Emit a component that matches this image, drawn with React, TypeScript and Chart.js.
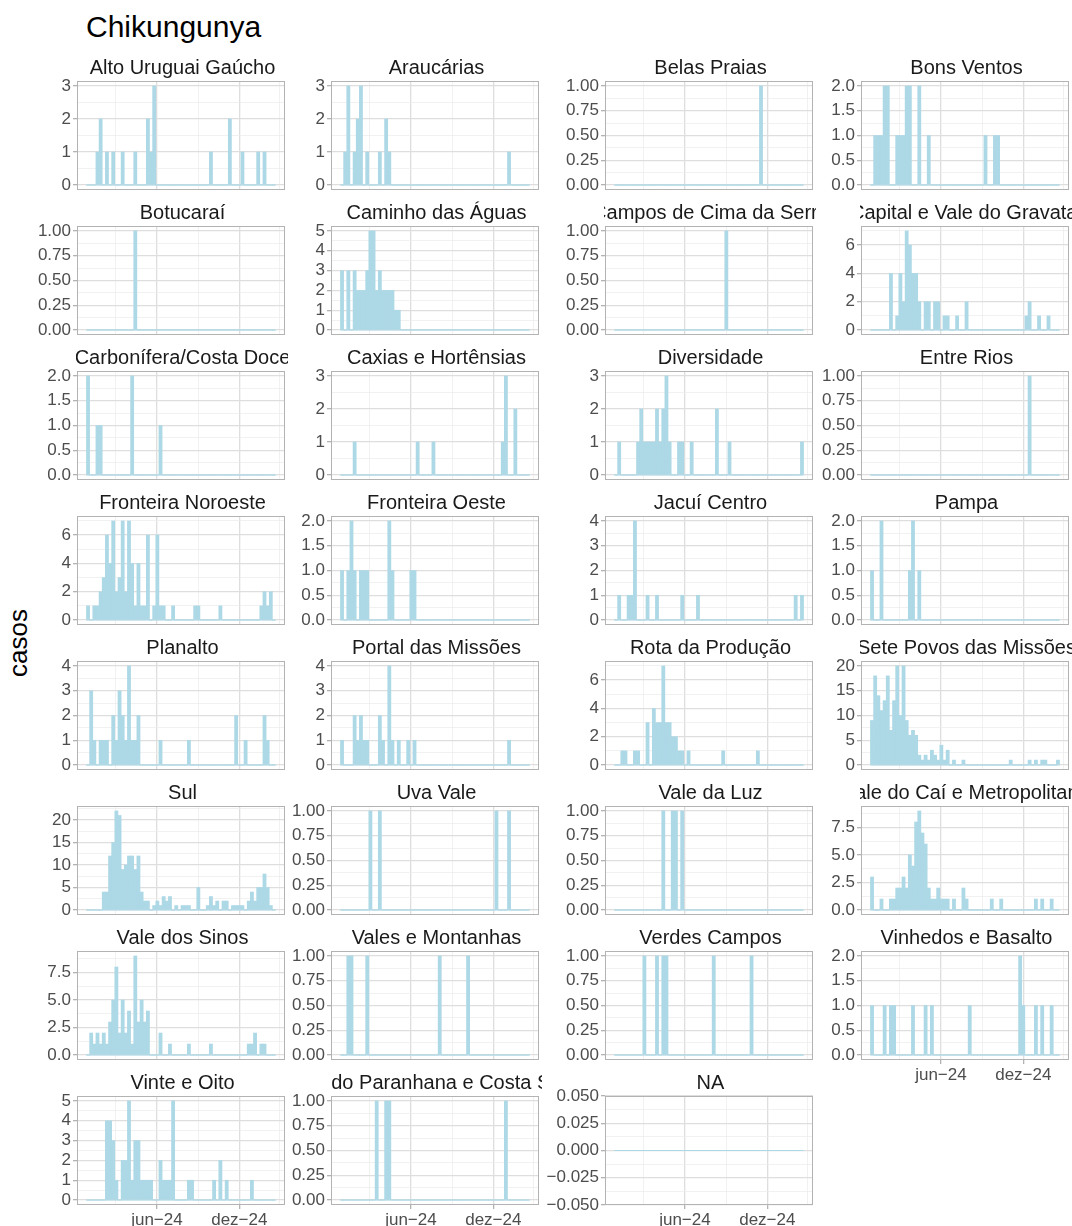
import React, { useEffect, useRef } from "react";
import { Chart, registerables } from "chart.js";

Chart.register(...registerables);

// ---------- text ----------
const chartTitle = "Chikungunya";
const yAxisTitle = "casos";

// ---------- x domain (weekly bars) ----------
const firstWeek = "2023-12-31";
const majorTickDates = ["2024-06-01", "2024-12-01"];
const majorTickLabels = ["jun−24", "dez−24"];
const minorTickDates = ["2024-03-01", "2024-09-01", "2025-03-01"];

// ---------- series: weekly cases per region ----------
const altoUruguaiGaucho = [
  0,0,0,1,2,0,1,0,1,0, 0,1,0,0,0,1,0,0,0,2, 1,3,0,0,0,0,0,0,0,0,
  0,0,0,0,0,0,0,0,0,1, 0,0,0,0,0,2,0,0,0,1, 0,0,0,0,1,0,1,0,0,0];
const araucarias = [
  0,1,3,0,1,2,3,0,1,0, 0,0,1,0,2,1,0,0,0,0, 0,0,0,0,0,0,0,0,0,0,
  0,0,0,0,0,0,0,0,0,0, 0,0,0,0,0,0,0,0,0,0, 0,0,0,1,0,0,0,0,0,0];
const belasPraias = [
  0,0,0,0,0,0,0,0,0,0, 0,0,0,0,0,0,0,0,0,0, 0,0,0,0,0,0,0,0,0,0,
  0,0,0,0,0,0,0,0,0,0, 0,0,0,0,0,0,1,0,0,0, 0,0,0,0,0,0,0,0,0,0];
const bonsVentos = [
  0,1,1,1,2,2,0,0,1,1, 1,2,2,0,0,2,0,0,1,0, 0,0,0,0,0,0,0,0,0,0,
  0,0,0,0,0,0,1,0,0,1, 1,0,0,0,0,0,0,0,0,0, 0,0,0,0,0,0,0,0,0,0];
const botucarai = [
  0,0,0,0,0,0,0,0,0,0, 0,0,0,0,0,1,0,0,0,0, 0,0,0,0,0,0,0,0,0,0,
  0,0,0,0,0,0,0,0,0,0, 0,0,0,0,0,0,0,0,0,0, 0,0,0,0,0,0,0,0,0,0];
const caminhoDasAguas = [
  3,0,3,0,3,2,2,2,3,5, 5,2,3,2,2,2,2,1,1,0, 0,0,0,0,0,0,0,0,0,0,
  0,0,0,0,0,0,0,0,0,0, 0,0,0,0,0,0,0,0,0,0, 0,0,0,0,0,0,0,0,0,0];
const camposDeCimaDaSerra = [
  0,0,0,0,0,0,0,0,0,0, 0,0,0,0,0,0,0,0,0,0, 0,0,0,0,0,0,0,0,0,0,
  0,0,0,0,0,1,0,0,0,0, 0,0,0,0,0,0,0,0,0,0, 0,0,0,0,0,0,0,0,0,0];
const capitalValeGravatai = [
  0,0,0,0,0,0,4,0,1,4, 2,7,6,4,4,2,0,2,2,0, 2,2,0,1,1,0,0,1,0,0,
  2,0,0,0,0,0,0,0,0,0, 0,0,0,0,0,0,0,0,0,1, 2,0,0,1,0,0,1,0,0,0];
const carboniferaCostaDoce = [
  2,0,0,1,1,0,0,0,0,0, 0,0,0,0,2,0,0,0,0,0, 0,0,0,1,0,0,0,0,0,0,
  0,0,0,0,0,0,0,0,0,0, 0,0,0,0,0,0,0,0,0,0, 0,0,0,0,0,0,0,0,0,0];
const caxiasHortensias = [
  0,0,0,0,1,0,0,0,0,0, 0,0,0,0,0,0,0,0,0,0, 0,0,0,0,1,0,0,0,0,1,
  0,0,0,0,0,0,0,0,0,0, 0,0,0,0,0,0,0,0,0,0, 0,1,3,0,0,2,0,0,0,0];
const diversidade = [
  0,1,0,0,0,0,0,1,2,1, 1,1,1,2,1,2,3,1,0,0, 1,1,0,0,1,0,0,0,0,0,
  0,0,2,0,0,0,1,0,0,0, 0,0,0,0,0,0,0,0,0,0, 0,0,0,0,0,0,0,0,0,1];
const entreRios = [
  0,0,0,0,0,0,0,0,0,0, 0,0,0,0,0,0,0,0,0,0, 0,0,0,0,0,0,0,0,0,0,
  0,0,0,0,0,0,0,0,0,0, 0,0,0,0,0,0,0,0,0,0, 1,0,0,0,0,0,0,0,0,0];
const fronteiraNoroeste = [
  1,0,1,1,2,3,6,4,7,2, 3,7,2,7,4,1,4,1,1,6, 0,1,6,1,1,0,0,1,0,0,
  0,0,0,0,1,1,0,0,0,0, 0,0,1,0,0,0,0,0,0,0, 0,0,0,0,0,1,2,1,2,0];
const fronteiraOeste = [
  1,0,1,2,1,0,1,1,1,0, 0,0,0,0,0,2,1,0,0,0, 0,0,1,1,0,0,0,0,0,0,
  0,0,0,0,0,0,0,0,0,0, 0,0,0,0,0,0,0,0,0,0, 0,0,0,0,0,0,0,0,0,0];
const jacuiCentro = [
  0,1,0,0,1,1,4,0,0,0, 1,0,0,1,0,0,0,0,0,0, 0,1,0,0,0,0,1,0,0,0,
  0,0,0,0,0,0,0,0,0,0, 0,0,0,0,0,0,0,0,0,0, 0,0,0,0,0,0,0,1,0,1];
const pampa = [
  1,0,0,2,0,0,0,0,0,0, 0,0,1,2,0,1,0,0,0,0, 0,0,0,0,0,0,0,0,0,0,
  0,0,0,0,0,0,0,0,0,0, 0,0,0,0,0,0,0,0,0,0, 0,0,0,0,0,0,0,0,0,0];
const planalto = [
  0,3,1,0,1,1,1,0,2,1, 3,2,1,4,1,1,2,0,0,0, 0,0,0,1,0,0,0,0,0,0,
  0,0,1,0,0,0,0,0,0,0, 0,0,0,0,0,0,0,2,0,0, 1,0,0,0,0,0,2,1,0,0];
const portalDasMissoes = [
  1,0,0,0,2,1,2,1,1,0, 0,0,2,1,0,4,1,0,1,0, 0,1,0,1,0,0,0,0,0,0,
  0,0,0,0,0,0,0,0,0,0, 0,0,0,0,0,0,0,0,0,0, 0,0,0,1,0,0,0,0,0,0];
const rotaDaProducao = [
  0,0,1,1,0,0,1,1,0,0, 3,0,4,3,3,7,3,3,2,2, 1,1,0,1,0,0,0,0,0,0,
  0,0,0,0,1,0,0,0,0,0, 0,0,0,0,0,1,0,0,0,0, 0,0,0,0,0,0,0,0,0,0];
const setePovosDasMissoes = [
  9,18,14,11,13,18,7,13,20,10, 20,9,6,7,6,2,1,2,1,3, 2,1,4,1,3,0,1,0,0,1,
  0,0,0,0,0,0,0,0,0,0, 0,0,0,0,1,0,0,0,0,0, 1,0,1,0,1,1,0,0,0,1];
const sul = [
  0,0,0,0,0,4,4,12,15,22, 21,9,10,12,12,9,12,4,2,2, 0,1,2,1,3,2,3,0,1,0,
  1,1,1,0,0,5,0,0,1,3, 1,2,0,2,2,0,1,1,1,1, 0,2,4,2,5,5,8,5,1,0];
const uvaVale = [
  0,0,0,0,0,0,0,0,0,1, 0,0,1,0,0,0,0,0,0,0, 0,0,0,0,0,0,0,0,0,0,
  0,0,0,0,0,0,0,0,0,0, 0,0,0,0,0,0,0,0,0,1, 0,0,0,1,0,0,0,0,0,0];
const valeDaLuz = [
  0,0,0,0,0,0,0,0,0,0, 0,0,0,0,0,1,0,0,1,1, 0,1,0,0,0,0,0,0,0,0,
  0,0,0,0,0,0,0,0,0,0, 0,0,0,0,0,0,0,0,0,0, 0,0,0,0,0,0,0,0,0,0];
const valeDoCaiMetropolitana = [
  3,0,0,1,0,0,1,1,2,2, 3,2,5,4,8,9,7,6,2,1, 1,2,1,1,1,0,1,0,0,2,
  1,0,0,0,0,0,0,0,1,0, 0,1,0,0,0,0,0,0,0,0, 0,0,1,0,1,0,0,1,0,0];
const valeDosSinos = [
  0,2,1,2,1,2,1,3,5,8, 2,5,2,4,1,9,3,5,3,4, 0,0,0,2,0,0,1,0,0,0,
  0,0,1,0,0,0,0,0,0,1, 0,0,0,0,0,0,0,0,0,0, 0,1,1,2,0,1,1,0,0,0];
const valesEMontanhas = [
  0,0,1,1,0,0,0,0,1,0, 0,0,0,0,0,0,0,0,0,0, 0,0,0,0,0,0,0,0,0,0,
  0,1,0,0,0,0,0,0,0,0, 1,0,0,0,0,0,0,0,0,0, 0,0,0,0,0,0,0,0,0,0];
const verdesCampos = [
  0,0,0,0,0,0,0,0,0,1, 0,0,0,1,0,1,1,0,0,0, 0,0,0,0,0,0,0,0,0,0,
  0,1,0,0,0,0,0,0,0,0, 0,0,0,1,0,0,0,0,0,0, 0,0,0,0,0,0,0,0,0,0];
const vinhedosEBasalto = [
  1,0,0,0,1,0,1,1,0,0, 0,0,0,1,0,0,0,1,0,1, 0,0,0,0,0,0,0,0,0,0,
  0,1,0,0,0,0,0,0,0,0, 0,0,0,0,0,0,0,2,1,0, 0,0,1,0,1,0,0,1,0,0];
const vinteEOito = [
  0,0,0,0,0,0,4,4,3,1, 0,2,2,5,1,3,3,1,1,1, 1,0,0,2,1,1,1,5,0,0,
  0,0,1,1,0,0,0,0,0,0, 1,0,2,0,1,0,0,0,0,0, 0,0,1,0,0,0,0,0,0,0];
const valeDoParanhanaCostaSerra = [
  0,0,0,0,0,0,0,0,0,0, 0,1,0,0,1,1,0,0,0,0, 0,0,0,0,0,0,0,0,0,0,
  0,0,0,0,0,0,0,0,0,0, 0,0,0,0,0,0,0,0,0,0, 0,0,1,0,0,0,0,0,0,0];
const semRegiao = [
  0,0,0,0,0,0,0,0,0,0, 0,0,0,0,0,0,0,0,0,0, 0,0,0,0,0,0,0,0,0,0,
  0,0,0,0,0,0,0,0,0,0, 0,0,0,0,0,0,0,0,0,0, 0,0,0,0,0,0,0,0,0,0];

const regionNames = [
  "Alto Uruguai Gaúcho", "Araucárias", "Belas Praias", "Bons Ventos",
  "Botucaraí", "Caminho das Águas", "Campos de Cima da Serra", "Capital e Vale do Gravataí",
  "Carbonífera/Costa Doce", "Caxias e Hortênsias", "Diversidade", "Entre Rios",
  "Fronteira Noroeste", "Fronteira Oeste", "Jacuí Centro", "Pampa",
  "Planalto", "Portal das Missões", "Rota da Produção", "Sete Povos das Missões",
  "Sul", "Uva Vale", "Vale da Luz", "Vale do Caí e Metropolitana",
  "Vale dos Sinos", "Vales e Montanhas", "Verdes Campos", "Vinhedos e Basalto",
  "Vinte e Oito", "Vale do Paranhana e Costa Serra", "NA",
];
const regionSeries = [
  altoUruguaiGaucho, araucarias, belasPraias, bonsVentos,
  botucarai, caminhoDasAguas, camposDeCimaDaSerra, capitalValeGravatai,
  carboniferaCostaDoce, caxiasHortensias, diversidade, entreRios,
  fronteiraNoroeste, fronteiraOeste, jacuiCentro, pampa,
  planalto, portalDasMissoes, rotaDaProducao, setePovosDasMissoes,
  sul, uvaVale, valeDaLuz, valeDoCaiMetropolitana,
  valeDosSinos, valesEMontanhas, verdesCampos, vinhedosEBasalto,
  vinteEOito, valeDoParanhanaCostaSerra, semRegiao,
];

// ---------- layout / style ----------
const FONT = '"Liberation Sans", Arial, Helvetica, sans-serif';
const BAR_COLOR = "#ADD8E6";
const AXIS_TEXT = "#4D4D4D";
const BORDER = "#B3B3B3";
const GRID_MAJOR = "#DEDEDE";
const GRID_MINOR = "#EBEBEB";
const NCOL = 4;
const COL_LEFT = [77, 331, 605, 861];
const PANEL_W = 208;
const ROW_TOP0 = 81;
const ROW_PITCH = 145;
const PANEL_H = 109;
const AXIS_W = 72;
const XAXIS_H = 30;
const VPAD = 12;
const RPAD = 2;
const STRIP_SHIFT = 1.5;
const STRIP_CLIP_L = 1;
const STRIP_CLIP_R = 3;

const DAY = 86400000;
const dayOf = (iso: string) => (Date.parse(iso) - Date.parse(firstWeek)) / DAY;

function pickStep(max: number): number {
  if (max <= 1) return 0.25;
  if (max <= 2) return 0.5;
  if (max <= 5) return 1;
  if (max <= 8) return 2;
  if (max <= 10) return 2.5;
  return 5;
}
function decimalsOf(step: number): number {
  const s = String(step);
  return s.includes(".") ? s.split(".")[1].length : 0;
}
function fmt(v: number, dec: number): string {
  const s = Math.abs(v).toFixed(dec);
  return v < -1e-12 ? "−" + s : s;
}

const borderPlugin = {
  id: "panelBorder",
  afterDraw(chart: any) {
    const { ctx, chartArea: a } = chart;
    ctx.save();
    ctx.strokeStyle = BORDER;
    ctx.lineWidth = 1;
    ctx.strokeRect(Math.round(a.left) + 0.5, Math.round(a.top) + 0.5, Math.round(a.right - a.left) - 1, Math.round(a.bottom - a.top) - 1);
    ctx.restore();
  },
};

function Panel({ index }: { index: number }) {
  const ref = useRef<HTMLCanvasElement | null>(null);
  const col = index % NCOL;
  const row = Math.floor(index / NCOL);
  const total = regionNames.length;
  const showX = index + NCOL >= total;
  const panelTop = ROW_TOP0 + row * ROW_PITCH;
  const left = COL_LEFT[col] - AXIS_W;
  const top = panelTop - VPAD;
  const width = AXIS_W + PANEL_W + RPAD;
  const height = VPAD + PANEL_H + (showX ? XAXIS_H : VPAD);

  useEffect(() => {
    const values = regionSeries[index];
    const days = values.map((_, i) => i * 7);
    const bars = values.map((v, i) => ({ x: days[i], y: v }));
    const dataStart = days[0] - 3.5;
    const dataEnd = days[days.length - 1] + 3.5;
    const xr = dataEnd - dataStart;
    const xMin = dataStart - 0.05 * xr;
    const xMax = dataEnd + 0.05 * xr;
    const baseline = [{ x: dataStart, y: 0 }, { x: dataEnd, y: 0 }];

    const maxV = Math.max(...values);
    let lo: number, hi: number, step: number;
    if (maxV === 0) { lo = -0.05; hi = 0.05; step = 0.025; }
    else { lo = -0.05 * maxV; hi = 1.05 * maxV; step = pickStep(maxV); }
    const dec = decimalsOf(step);
    const yMajor: number[] = [];
    for (let k = Math.ceil(lo / step - 1e-9); k * step <= hi + 1e-9; k++) yMajor.push(+(k * step).toFixed(6));
    const yMinor: number[] = [];
    for (let k = Math.ceil(lo / step - 1e-9) - 1; (k + 0.5) * step <= hi + 1e-9; k++) {
      const v = +((k + 0.5) * step).toFixed(6);
      if (v >= lo - 1e-9) yMinor.push(v);
    }
    const isYMajor = (v: number) => yMajor.some((m) => Math.abs(m - v) < 1e-7);

    const xMajor = majorTickDates.map(dayOf);
    const xMinor = minorTickDates.map(dayOf).filter((d) => d >= xMin && d <= xMax);
    const xMajorIdx = (v: number) => xMajor.findIndex((m) => Math.abs(m - v) < 1e-6);

    const chart = new Chart(ref.current as HTMLCanvasElement, {
      type: "bar",
      data: {
        datasets: [
          {
            type: "line",
            data: baseline,
            borderColor: BAR_COLOR,
            borderWidth: 1,
            pointRadius: 0,
            order: 2,
          } as any,
          {
            type: "bar",
            data: bars,
            backgroundColor: BAR_COLOR,
            borderWidth: 0,
            barPercentage: 1,
            categoryPercentage: 1,
            order: 1,
          } as any,
        ],
      },
      options: {
        animation: false,
        responsive: false,
        events: [],
        layout: { padding: { top: VPAD, right: RPAD, bottom: showX ? 0 : VPAD, left: 0 } },
        plugins: { legend: { display: false }, tooltip: { enabled: false } },
        scales: {
          x: {
            type: "linear",
            min: xMin,
            max: xMax,
            offset: false,
            border: { display: false },
            grid: {
              offset: false,
              drawTicks: showX,
              tickLength: 4,
              color: (c: any) => (c.tick && xMajorIdx(c.tick.value) >= 0 ? GRID_MAJOR : GRID_MINOR),
              lineWidth: (c: any) => (c.tick && xMajorIdx(c.tick.value) >= 0 ? 1.3 : 0.7),
              tickColor: (c: any) => (c.tick && xMajorIdx(c.tick.value) >= 0 ? BORDER : "rgba(0,0,0,0)"),
            },
            afterBuildTicks: (s: any) => {
              s.ticks = [...xMinor, ...xMajor].sort((a, b) => a - b).map((v) => ({ value: v }));
            },
            afterFit: (s: any) => {
              s.height = showX ? XAXIS_H : 0;
              s.paddingLeft = 0;
              s.paddingRight = 0;
            },
            ticks: {
              display: showX,
              autoSkip: false,
              maxRotation: 0,
              padding: 1,
              color: AXIS_TEXT,
              font: { family: FONT, size: 17 },
              callback: (v: any) => {
                const i = xMajorIdx(Number(v));
                return i >= 0 ? majorTickLabels[i] : "";
              },
            },
          },
          y: {
            type: "linear",
            min: lo,
            max: hi,
            border: { display: false },
            grid: {
              tickLength: 4,
              color: (c: any) => (c.tick && isYMajor(c.tick.value) ? GRID_MAJOR : GRID_MINOR),
              lineWidth: (c: any) => (c.tick && isYMajor(c.tick.value) ? 1.3 : 0.7),
              tickColor: (c: any) => (c.tick && isYMajor(c.tick.value) ? BORDER : "rgba(0,0,0,0)"),
            },
            afterBuildTicks: (s: any) => {
              s.ticks = [...yMinor, ...yMajor].sort((a, b) => a - b).map((v) => ({ value: v }));
            },
            afterFit: (s: any) => {
              s.width = AXIS_W;
              s.paddingTop = 0;
              s.paddingBottom = 0;
            },
            ticks: {
              autoSkip: false,
              padding: 2,
              color: AXIS_TEXT,
              font: { family: FONT, size: 17 },
              callback: (v: any) => (isYMajor(Number(v)) ? fmt(Number(v), dec) : ""),
            },
          },
        },
      },
      plugins: [borderPlugin],
    } as any);
    return () => chart.destroy();
  }, [index]);

  return (
    <>
      <canvas
        ref={ref}
        width={width}
        height={height}
        style={{ position: "absolute", left, top, width, height }}
      />
      <div
        style={{
          position: "absolute",
          left: COL_LEFT[col] - STRIP_CLIP_L,
          top: panelTop - 25,
          width: PANEL_W + STRIP_CLIP_L + STRIP_CLIP_R,
          height: 22,
          lineHeight: "22px",
          fontSize: 20,
          fontFamily: FONT,
          color: "#1A1A1A",
          display: "flex",
          justifyContent: "center",
          overflow: "hidden",
          whiteSpace: "nowrap",
        }}
      >
        <span
          style={{
            flexShrink: 0,
            position: "relative",
            left: STRIP_SHIFT - (STRIP_CLIP_R - STRIP_CLIP_L) / 2,
          }}
        >
          {regionNames[index]}
        </span>
      </div>
    </>
  );
}

export default function App() {
  return (
    <div
      style={{
        position: "absolute",
        left: 0,
        top: 0,
        width: 1072,
        height: 1226,
        background: "#FFFFFF",
        overflow: "hidden",
        fontFamily: FONT,
      }}
    >
      <div style={{ position: "absolute", left: 86, top: 10, fontSize: 30, lineHeight: "34px", color: "#000" }}>
        {chartTitle}
      </div>
      <div
        style={{
          position: "absolute",
          left: 18,
          top: 643,
          fontSize: 26,
          lineHeight: "30px",
          color: "#000",
          transform: "translate(-50%, -50%) rotate(-90deg)",
          whiteSpace: "nowrap",
        }}
      >
        {yAxisTitle}
      </div>
      {regionNames.map((_, i) => (
        <Panel key={i} index={i} />
      ))}
    </div>
  );
}
